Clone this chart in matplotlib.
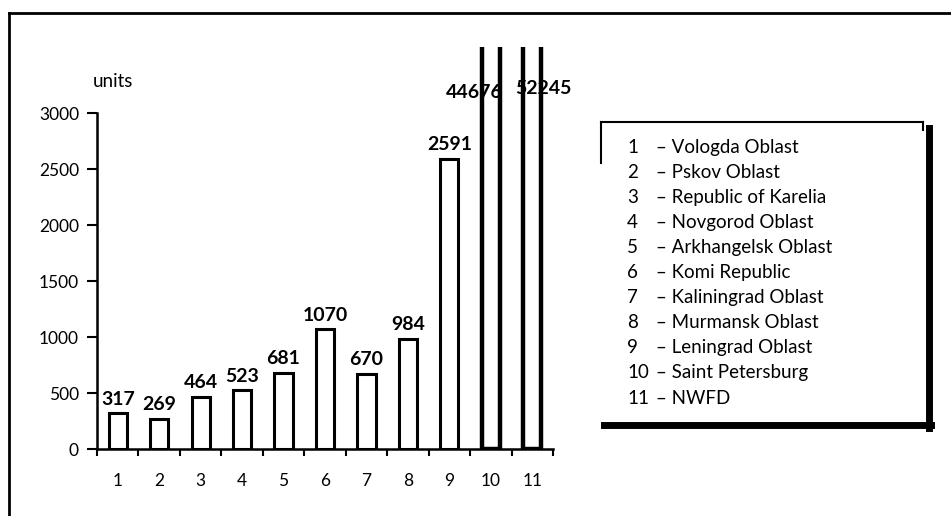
import matplotlib.pyplot as plt
from matplotlib.patches import Rectangle
from matplotlib.lines import Line2D

# regions of the North-West federal district
regions = ["Vologda Oblast", "Pskov Oblast", "Republic of Karelia", "Novgorod Oblast",
           "Arkhangelsk Oblast", "Komi Republic", "Kaliningrad Oblast", "Murmansk Oblast",
           "Leningrad Oblast", "Saint Petersburg", "NWFD"]
codes = list(range(1, 12))
values = [317, 269, 464, 523, 681, 1070, 670, 984, 2591, 44676, 52245]
yticks = [0, 500, 1000, 1500, 2000, 2500, 3000]
ymax = 3000

plt.rcParams['font.family'] = ['Lato', 'DejaVu Sans']

W, H = 951, 516
fig = plt.figure(figsize=(W / 100, H / 100), dpi=100)

def px(x, y):
    # pixel position (from top-left) -> figure fraction
    return x / W, 1 - y / H

# outer frame: top and left edges
fig.add_artist(Line2D([px(9, 0)[0], 1.0], [px(0, 13)[1]] * 2, color='black', lw=2))
fig.add_artist(Line2D([px(9, 0)[0]] * 2, [0, px(0, 13)[1]], color='black', lw=2))

x0, y0 = px(97, 449)
x1, y1 = px(553, 113)
ax = fig.add_axes([x0, y0, x1 - x0, y1 - y0])

bars = ax.bar(codes, values, width=0.44, facecolor='white', edgecolor='black', linewidth=2.2)
# the two large values run past the top of the axis
clip = Rectangle((0, 0), 1, 1.195, transform=ax.transAxes, visible=False)
ax.add_patch(clip)
for b, v in zip(bars, values):
    b.set_clip_path(clip)
    if v > ymax:
        b.set_linewidth(3.2)

# labels of the off-scale bars sit beside the broken columns
big_pos = {44676: (-12, 1.06), 52245: (8, 1.074)}
for c, v in zip(codes, values):
    if v > ymax:
        dx, yf = big_pos[v]
        ax.annotate(str(v), (c, yf), xycoords=ax.get_xaxis_transform(), xytext=(dx, 0),
                    textcoords='offset points', ha='center', va='center',
                    fontsize=14, fontweight='bold')
    else:
        ax.annotate(str(v), (c, v), xytext=(0, 4), textcoords='offset points',
                    ha='center', va='bottom', fontsize=14, fontweight='bold')

ax.set_xlim(0.5, 11.5)
ax.set_ylim(0, ymax)
ax.set_yticks(yticks)
ax.set_xticks(codes)
ax.set_xticks([c + 0.5 for c in range(0, 12)], minor=True)
ax.tick_params(axis='x', which='major', length=0, pad=17, labelsize=12.5)
ax.tick_params(axis='x', which='minor', length=5, width=1.5, direction='out')
ax.tick_params(axis='y', length=7, width=1.5, pad=6, labelsize=12.5)
for s in ['top', 'right']:
    ax.spines[s].set_visible(False)
for s in ['left', 'bottom']:
    ax.spines[s].set_linewidth(1.8)

ax.text(0.035, 1.095, "units", transform=ax.transAxes, ha='center', va='center', fontsize=13.5)

# legend box with a drop shadow on the right and bottom
bx0, by0 = px(601, 421)
bx1, by1 = px(923, 122)
fig.add_artist(Line2D([bx0, bx1], [by1, by1], color='black', lw=1.5))
fig.add_artist(Line2D([bx0, bx0], [by1, px(0, 163)[1]], color='black', lw=1.5))
fig.add_artist(Line2D([bx1, bx1], [by1, px(0, 130)[1]], color='black', lw=1.5))
fig.add_artist(Line2D([px(929, 0)[0]] * 2, [px(0, 128)[1], px(0, 428)[1]], color='black', lw=5))
fig.add_artist(Line2D([px(604, 0)[0], px(931, 0)[0]], [px(0, 425)[1]] * 2, color='black', lw=5))

for i, (c, name) in enumerate(zip(codes, regions)):
    yy = px(0, 147 + i * 25.1)[1]
    fig.text(px(627, 0)[0], yy, str(c), ha='left', va='center', fontsize=13.5)
    fig.text(px(656, 0)[0], yy, "\u2013 " + name, ha='left', va='center', fontsize=13.5)

fig.savefig("out.png", dpi=100)
